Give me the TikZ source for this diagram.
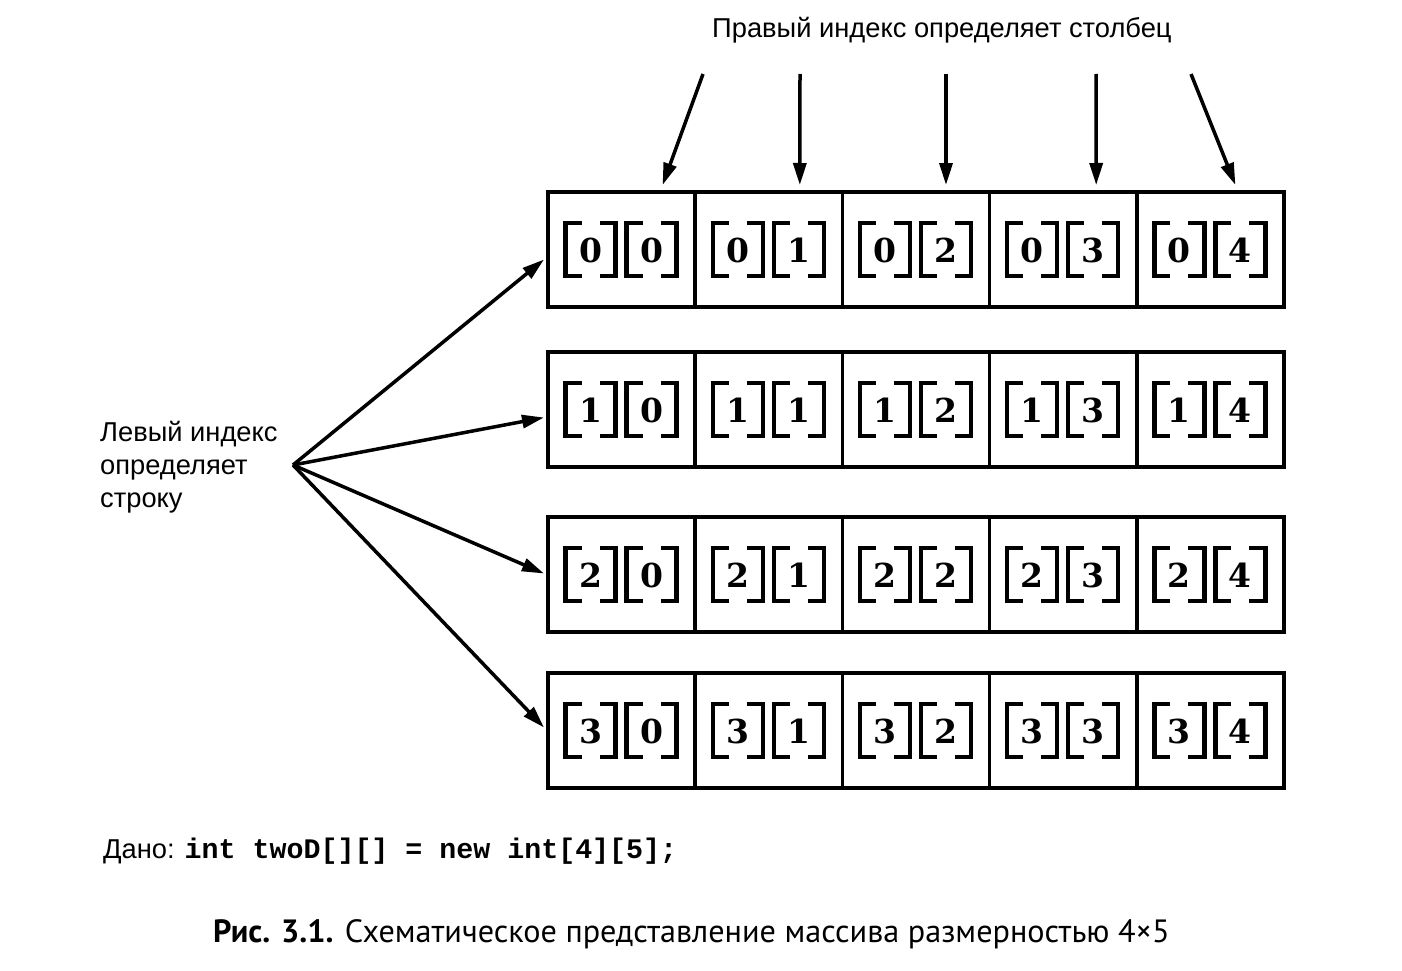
\documentclass[tikz,border=0pt]{standalone}
\usepackage{fontspec}
\setmainfont{Liberation Sans}
\newfontfamily\digfont{DejaVu Serif}
\newfontfamily\codefont{Liberation Mono}
\newfontfamily\capfont{PT Sans}
\usetikzlibrary{arrows.meta,calc}
\tikzset{
  cell/.style={draw, line width=3.5pt, minimum width=147.2pt, minimum height=115pt, inner sep=0pt, outer sep=0pt},
  brk/.style={line width=4.5pt, line cap=butt, line join=miter},
  dig/.style={font=\fontsize{33}{40}\selectfont\digfont\bfseries, inner sep=0pt},
  arr/.style={line width=3.5pt, -{Triangle[length=22pt,width=13pt]}},
  lbl/.style={font=\fontsize{27.3}{33}\selectfont, inner sep=0pt},
}
\begin{document}
\begin{tikzpicture}[x=1pt,y=-1pt]
\useasboundingbox[fill=white] (0,0) rectangle (1402,971);
% cells
\foreach \r/\yy in {0/249.5,1/409.5,2/574.5,3/730.5}{
  \foreach \c in {0,...,4}{
    \node[cell] (r\r c\c) at ({548+147.2*\c+73.6},\yy) {};
    \foreach \k/\dx/\v in {a/-31/\r, b/30/\c}{
      \draw[brk] ($(r\r c\c.center)+(\dx-9,-26.5)$) -- ++(-16,0) -- ++(0,53) -- ++(16,0);
      \draw[brk] ($(r\r c\c.center)+(\dx+9,-26.5)$) -- ++(16,0) -- ++(0,53) -- ++(-16,0);
      \node[dig] (d\r\c\k) at ($(r\r c\c.center)+(\dx,1)$) {\v};
    }
  }
}
% top label and arrows
\node[lbl, anchor=base west] (top) at (712,38) {Правый индекс определяет столбец};
\coordinate (t0) at (703,74);
\coordinate (t1) at (800,74);
\coordinate (t2) at (946,74);
\coordinate (t3) at (1096,74);
\coordinate (t4) at (1191,74);
\draw[arr] (t0) -- ([xshift=41pt,yshift=7pt]r0c0.north);
\draw[arr] (t1) -- ([xshift=31pt,yshift=7pt]r0c1.north);
\draw[arr] (t2) -- ([xshift=30pt,yshift=7pt]r0c2.north);
\draw[arr] (t3) -- ([xshift=33pt,yshift=7pt]r0c3.north);
\draw[arr] (t4) -- ([xshift=25pt,yshift=7pt]r0c4.north);
% left label and arrows
\node[lbl, anchor=north west, align=left] (left) at (100,421) {Левый индекс\\определяет\\строку};
\coordinate (L) at (293,465);
\draw[arr] (L) -- ([xshift=-4pt,yshift=-10pt]r0c0.west);
\draw[arr] (L) -- ([xshift=-4pt,yshift=-8pt]r1c0.west);
\draw[arr] (L) -- ([xshift=-4pt,yshift=1pt]r2c0.west);
\draw[arr] (L) -- ([xshift=-4pt,yshift=3pt]r3c0.west);
% code line
\node[lbl, anchor=base west] (code) at (103,858) {Дано:\hspace{10pt}{\fontsize{28.3}{33}\selectfont\codefont\bfseries int twoD[][] = new int[4][5];}};
% caption
\node[inner sep=0pt, anchor=base west, font=\fontsize{32.2}{38}\selectfont\capfont] (cap) at (213,942) {{\bfseries Рис. 3.1.} Схематическое представление массива размерностью 4×5};
\end{tikzpicture}
\end{document}
